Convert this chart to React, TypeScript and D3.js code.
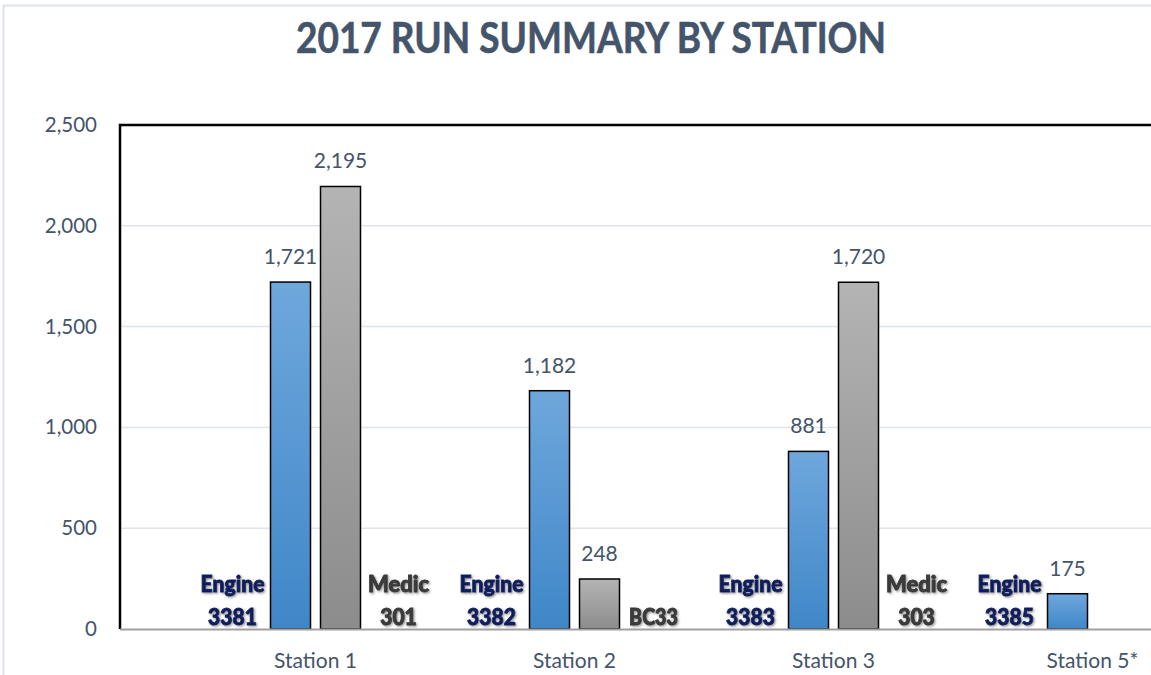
import React, { useEffect, useRef } from 'react';
import * as d3 from 'd3';

// Chart data
const stations = ['Station 1', 'Station 2', 'Station 3', 'Station 5*'];
const engineRuns = [1721, 1182, 881, 175];
const secondRuns: (number | null)[] = [2195, 248, 1720, null];
const engineNames = ['Engine\n3381', 'Engine\n3382', 'Engine\n3383', 'Engine\n3385'];
const secondNames = ['Medic\n301', 'BC33', 'Medic\n303', ''];
const yTicks = [0, 500, 1000, 1500, 2000, 2500];

const App: React.FC = () => {
  const svgRef = useRef<SVGSVGElement>(null);

  useEffect(() => {
    if (!svgRef.current) return;
    const svg = d3.select(svgRef.current);
    svg.selectAll('*').remove();

    const width = 1151;
    const height = 675;
    const plotLeft = 120;
    const plotTop = 125;
    const plotBottom = 629;
    const font = 'Lato, "Open Sans", sans-serif';
    const slate = '#44546a';

    svg.attr('width', width).attr('height', height);

    const defs = svg.append('defs');
    const blue = defs.append('linearGradient').attr('id', 'blueGrad')
      .attr('x1', 0).attr('y1', 0).attr('x2', 0).attr('y2', 1);
    blue.append('stop').attr('offset', '0%').attr('stop-color', '#6fa7dc');
    blue.append('stop').attr('offset', '100%').attr('stop-color', '#3f87c8');
    const gray = defs.append('linearGradient').attr('id', 'grayGrad')
      .attr('x1', 0).attr('y1', 0).attr('x2', 0).attr('y2', 1);
    gray.append('stop').attr('offset', '0%').attr('stop-color', '#b4b4b4');
    gray.append('stop').attr('offset', '100%').attr('stop-color', '#8c8c8c');
    const shadow = defs.append('filter').attr('id', 'txtShadow')
      .attr('x', '-20%').attr('y', '-30%').attr('width', '140%').attr('height', '160%');
    shadow.append('feDropShadow').attr('dx', 1.2).attr('dy', 1.2)
      .attr('stdDeviation', 1.2).attr('flood-color', '#777').attr('flood-opacity', 0.8);

    // Background + outer chart border
    svg.append('rect').attr('width', width).attr('height', height).attr('fill', '#fff');
    svg.append('path')
      .attr('d', `M3.5,${height} V5.5 H${width}`)
      .attr('fill', 'none').attr('stroke', '#dde3ea').attr('stroke-width', 2);

    // Title
    svg.append('text')
      .attr('x', 591).attr('y', 53)
      .attr('text-anchor', 'middle')
      .attr('textLength', 590).attr('lengthAdjust', 'spacingAndGlyphs')
      .style('font-family', font).style('font-size', '42px').style('font-weight', 'bold')
      .style('fill', slate).style('stroke', slate).style('stroke-width', 0.6)
      .text('2017 RUN SUMMARY BY STATION');

    const y = d3.scaleLinear().domain([0, 2500]).range([plotBottom, plotTop]);
    const x = d3.scaleBand().domain(stations).range([186, 1222]);
    const barW = 40;
    const gap = 10;

    // Gridlines
    svg.append('g').selectAll('line')
      .data(yTicks.filter(t => t > 0 && t < 2500))
      .enter().append('line')
      .attr('x1', plotLeft).attr('x2', width)
      .attr('y1', d => y(d)).attr('y2', d => y(d))
      .attr('stroke', '#dfe4ea').attr('stroke-width', 1.5);

    // Y tick labels
    svg.append('g').selectAll('text')
      .data(yTicks).enter().append('text')
      .attr('x', 97).attr('y', d => y(d) + 7)
      .attr('text-anchor', 'end')
      .style('font-family', font).style('font-size', '20.5px').style('fill', slate)
      .text(d => d3.format(',')(d));

    // Plot frame (top + left black)
    svg.append('path')
      .attr('d', `M${plotLeft},${plotBottom} V${plotTop} H${width}`)
      .attr('fill', 'none').attr('stroke', '#000').attr('stroke-width', 2.5);

    const center = (s: string) => (x(s) ?? 0) + x.bandwidth() / 2;

    // Engine bars
    svg.append('g').selectAll('rect')
      .data(stations.map((s, i) => ({ s, v: engineRuns[i] })))
      .enter().append('rect')
      .attr('x', d => center(d.s) - gap / 2 - barW)
      .attr('y', d => y(d.v))
      .attr('width', barW)
      .attr('height', d => y(0) - y(d.v))
      .attr('fill', 'url(#blueGrad)').attr('stroke', '#000').attr('stroke-width', 1.5);

    // Medic / BC bars
    const second = stations.map((s, i) => ({ s, v: secondRuns[i] })).filter(d => d.v !== null) as { s: string; v: number }[];
    svg.append('g').selectAll('rect')
      .data(second)
      .enter().append('rect')
      .attr('x', d => center(d.s) + gap / 2)
      .attr('y', d => y(d.v))
      .attr('width', barW)
      .attr('height', d => y(0) - y(d.v))
      .attr('fill', 'url(#grayGrad)').attr('stroke', '#000').attr('stroke-width', 1.5);

    // Baseline
    svg.append('line')
      .attr('x1', plotLeft).attr('x2', width)
      .attr('y1', plotBottom + 0.5).attr('y2', plotBottom + 0.5)
      .attr('stroke', '#a0a0a0').attr('stroke-width', 2);

    // Value labels
    const valueLabel = (cx: number, v: number) => {
      svg.append('text')
        .attr('x', cx).attr('y', y(v) - 18)
        .attr('text-anchor', 'middle')
        .style('font-family', font).style('font-size', '21px').style('fill', slate)
        .text(d3.format(',')(v));
    };
    stations.forEach((s, i) => {
      valueLabel(center(s) - gap / 2 - barW / 2, engineRuns[i]);
      const v = secondRuns[i];
      if (v !== null) valueLabel(center(s) + gap / 2 + barW / 2, v);
    });

    // Unit name labels
    const wordWidth = (w: string) =>
      w === 'Engine' ? 64 : w === 'Medic' ? 61 : w.length * 12.2;
    const unitLabel = (cx: number, name: string, color: string) => {
      const lines = name.split('\n');
      const t = svg.append('text')
        .attr('text-anchor', 'middle')
        .attr('filter', 'url(#txtShadow)')
        .style('font-family', font).style('font-size', '22px').style('font-weight', 900)
        .style('fill', color).style('stroke', color).style('stroke-width', 0.9);
      lines.forEach((ln, k) => {
        t.append('tspan')
          .attr('x', cx)
          .attr('y', lines.length === 2 ? 592 + k * 33 : 625)
          .attr('textLength', wordWidth(ln)).attr('lengthAdjust', 'spacingAndGlyphs')
          .text(ln);
      });
    };
    stations.forEach((s, i) => {
      const bl = center(s) - gap / 2 - barW;
      unitLabel(bl - 38, engineNames[i], '#0c1f5e');
      const n = secondNames[i];
      if (!n) return;
      const br = center(s) + gap / 2 + barW;
      unitLabel(br + (n.includes('\n') ? 38 : 34), n, '#3a3a3a');
    });

    // X category labels
    svg.append('g').selectAll('text')
      .data(stations).enter().append('text')
      .attr('x', d => center(d)).attr('y', 668)
      .attr('text-anchor', 'middle')
      .style('font-family', font).style('font-size', '21px').style('fill', slate)
      .text(d => d);
  }, []);

  return (
    <div style={{ position: 'fixed', left: 0, top: 0 }}>
      <svg ref={svgRef}></svg>
    </div>
  );
};

export default App;
